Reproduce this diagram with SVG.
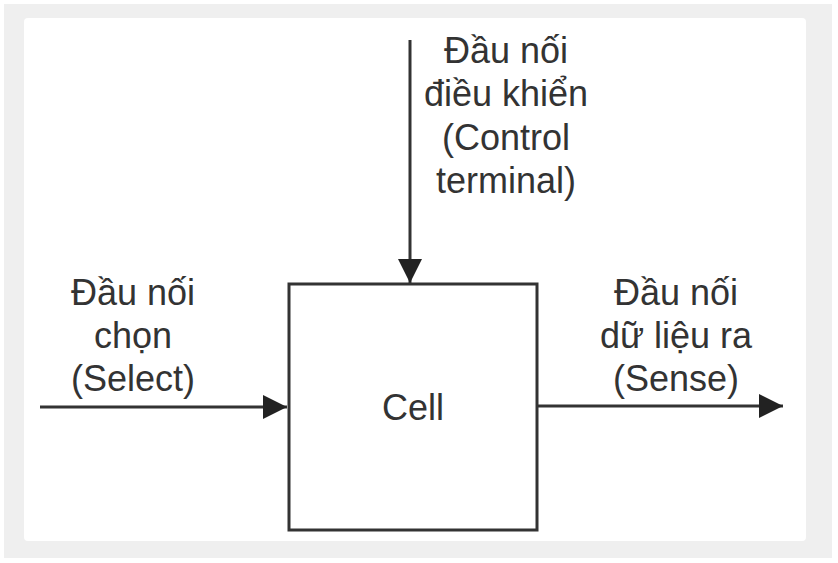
<svg xmlns="http://www.w3.org/2000/svg" width="838" height="563" viewBox="0 0 838 563">
<style>
.t{font-family:"Liberation Sans",Arial,sans-serif;font-size:36px;fill:#333;text-anchor:middle}
.ln{stroke:#333;stroke-width:3;fill:none}
</style>
<defs>
<marker id="ah" viewBox="0 0 10 10" refX="10" refY="5" markerWidth="8" markerHeight="8" markerUnits="strokeWidth" orient="auto">
<path d="M0,0 L10,5 L0,10 Z" fill="#222"/>
</marker>
</defs>
<rect x="0" y="0" width="838" height="563" fill="#ffffff"/>
<rect x="4" y="4" width="828" height="554" fill="#efefef"/>
<rect x="24" y="18" width="782" height="523" rx="4" fill="#ffffff"/>
<g id="connectors">
<line class="ln" x1="410" y1="40" x2="410" y2="283" marker-end="url(#ah)"/>
<line class="ln" x1="40" y1="407" x2="287" y2="407" marker-end="url(#ah)"/>
<line class="ln" x1="537" y1="406" x2="783" y2="406" marker-end="url(#ah)"/>
</g>
<g id="cell">
<rect x="289" y="284" width="248" height="246" fill="#fff" stroke="#333" stroke-width="3"/>
<text class="t" x="413" y="420">Cell</text>
</g>
<g id="control">
<text class="t" x="506" y="63">Đầu nối</text>
<text class="t" x="506" y="106">điều khiển</text>
<text class="t" x="506" y="150">(Control</text>
<text class="t" x="506" y="193">terminal)</text>
</g>
<g id="select">
<text class="t" x="133" y="305">Đầu nối</text>
<text class="t" x="133" y="348">chọn</text>
<text class="t" x="133" y="391">(Select)</text>
</g>
<g id="sense">
<text class="t" x="676" y="305">Đầu nối</text>
<text class="t" x="676" y="348">dữ liệu ra</text>
<text class="t" x="676" y="391">(Sense)</text>
</g>
</svg>
